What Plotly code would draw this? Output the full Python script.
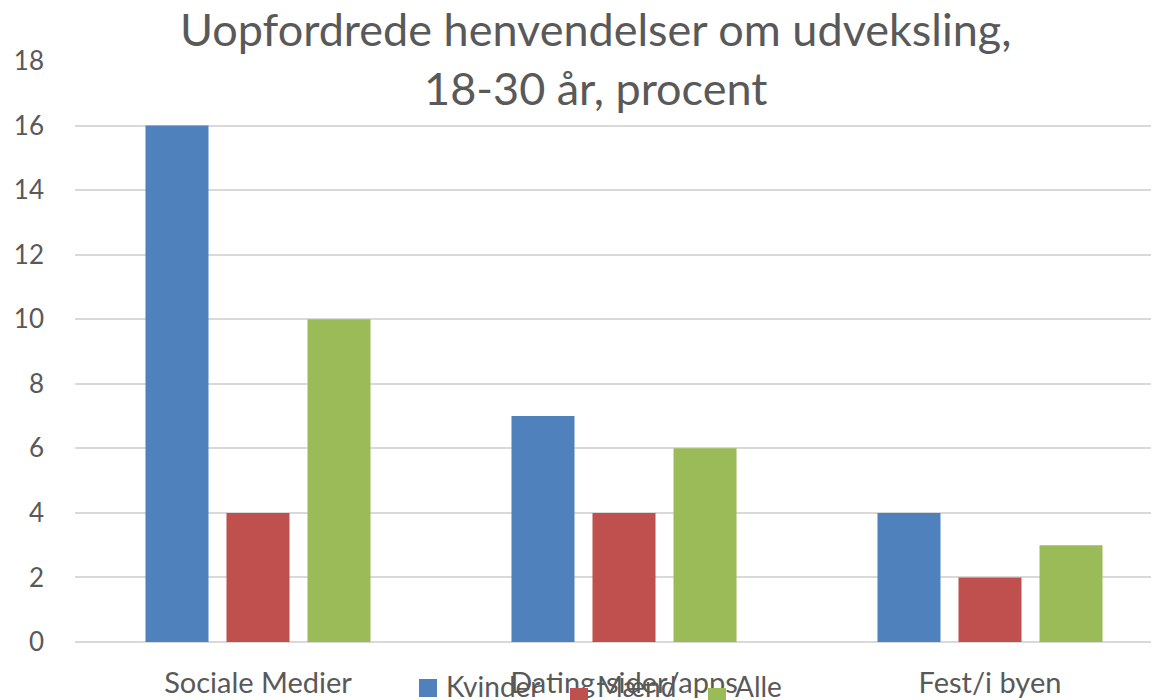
import plotly.graph_objects as go

categories = ["Sociale Medier", "Dating-sider/apps", "Fest/i byen"]
series_names = ["Kvinder", "Mænd", "Alle"]
kvinder = [16, 7, 4]
maend = [4, 4, 2]
alle = [10, 6, 3]
colors = ["#4F81BD", "#C0504D", "#9BBB59"]
y_ticks = [0, 2, 4, 6, 8, 10, 12, 14, 16, 18]

# the page body has an 8px margin, so the figure is drawn 8px in from the corner
OFF = 8
W, H = 1159 - OFF, 700 - OFF
L, R, T, B = 75 - OFF, 0, 61 - OFF, 700 - 642
PW, PH = W - L - R, H - T - B
font_family = "Lato, Open Sans, Arial, sans-serif"
grey = "#595959"


def px_x(px):
    return (px - OFF - L) / PW


def px_y(py):
    return 1 + (T - (py - OFF)) / PH


fig = go.Figure()
for name, vals, c in zip(series_names, [kvinder, maend, alle], colors):
    fig.add_trace(go.Bar(name=name, x=categories, y=vals, marker=dict(color=c, line=dict(width=0))))

x_right = PW / 366 - 0.5

# legend drawn by hand (it overlaps the middle category label, as in the reference)
leg_sq_x = [419, 570, 708]
leg_sq_y = [679, 688, 688]
SQ = 18
shapes = []
annotations = [
    dict(
        text="Uopfordrede henvendelser om udveksling,<br>18-30 år, procent",
        xref="paper", yref="paper", x=px_x(596), y=px_y(0),
        xanchor="center", yanchor="top", showarrow=False,
        font=dict(size=45, color=grey, family=font_family),
    )
]
for name, c, sx, sy in zip(series_names, colors, leg_sq_x, leg_sq_y):
    shapes.append(dict(
        type="rect", xref="paper", yref="paper",
        x0=px_x(sx), x1=px_x(sx + SQ), y0=px_y(sy), y1=px_y(sy + SQ),
        fillcolor=c, line=dict(width=0),
    ))
    annotations.append(dict(
        text=name, xref="paper", yref="paper", x=px_x(sx + SQ + 7), y=px_y(686),
        xanchor="left", yanchor="middle", showarrow=False,
        font=dict(size=28, color=grey, family=font_family),
    ))

fig.update_layout(
    width=W, height=H,
    margin=dict(l=L, r=R, t=T, b=B, pad=0, autoexpand=False),
    paper_bgcolor="white", plot_bgcolor="white",
    barmode="group", bargap=0.336, bargroupgap=0.222,
    font=dict(family=font_family, color=grey),
    xaxis=dict(
        range=[-0.5, x_right], showgrid=False, showline=False, ticks="",
        tickfont=dict(size=29, color=grey), ticklabelstandoff=21,
        automargin=False,
    ),
    yaxis=dict(
        range=[0, 18], tickvals=y_ticks, showgrid=True, gridcolor="#D9D9D9", gridwidth=1.5,
        zeroline=True, zerolinecolor="#D9D9D9", zerolinewidth=1.5,
        showline=False, ticks="", tickfont=dict(size=26, color=grey), ticklabelstandoff=30,
        automargin=False,
    ),
    showlegend=False,
    annotations=annotations,
    shapes=shapes,
)

fig.write_html("out.html")
